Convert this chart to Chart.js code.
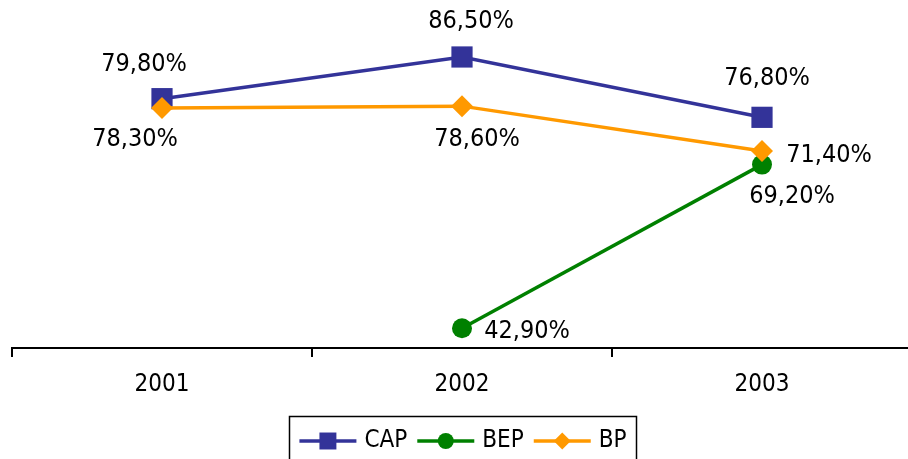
<!DOCTYPE html>
<html>
<head>
<meta charset="utf-8">
<script src="https://cdn.jsdelivr.net/npm/chart.js@4/dist/chart.umd.min.js"></script>
<style>
html,body{margin:0;padding:0;background:#fff;overflow:hidden;}
#wrap{width:908px;height:459px;position:relative;overflow:hidden;}
</style>
</head>
<body>
<div id="wrap"><canvas id="c" width="912" height="459"></canvas></div>
<script>
const categories = ['2001', '2002', '2003'];
const seriesNames = ['CAP', 'BEP', 'BP'];
const capValues = [79.8, 86.5, 76.8];
const bepValues = [null, 42.9, 69.2];
const bpValues = [78.3, 78.6, 71.4];

const colors = ['#333399', '#008000', '#FF9900'];
const styles = ['rect', 'circle', 'rectRot'];
const radii = [15, 10, 11];
const legendRadii = [12, 8, 8.5];
const FONT = "'DejaVu Sans Condensed', 'DejaVu Sans', sans-serif";

// label offsets (dx, dy) relative to each point, per dataset
const labelOffsets = [
  [[-18, -34], [9, -35], [5, -39]],
  [[0, 0], [65, 3], [30, 32]],
  [[-27, 32], [15, 33], [67, 5]]
];

function fmt(v) { return v.toFixed(2).replace('.', ',') + '%'; }

const labelPlugin = {
  id: 'valueLabels',
  afterDatasetsDraw(chart) {
    const ctx = chart.ctx;
    ctx.save();
    ctx.font = '25px ' + FONT;
    ctx.fillStyle = '#000';
    ctx.textAlign = 'center';
    ctx.textBaseline = 'middle';
    chart.data.datasets.forEach((ds, i) => {
      const meta = chart.getDatasetMeta(i);
      meta.data.forEach((pt, j) => {
        const v = ds.data[j];
        if (v === null || v === undefined) return;
        const off = labelOffsets[i][j];
        ctx.fillText(fmt(v), pt.x + off[0], pt.y + off[1]);
      });
    });
    ctx.restore();
  }
};

const legendPlugin = {
  id: 'boxLegend',
  afterDraw(chart) {
    const ctx = chart.ctx;
    ctx.save();
    ctx.font = '24px ' + FONT;
    const lineLen = 57, gapText = 8, gapItem = 10, padX = 10;
    const items = chart.data.datasets.map(ds => ({
      label: ds.label, w: lineLen + gapText + ctx.measureText(ds.label).width
    }));
    const total = items.reduce((s, it) => s + it.w, 0) + gapItem * (items.length - 1);
    const cx = 463;
    let x = cx - total / 2;
    const y = 441;
    ctx.strokeStyle = '#000';
    ctx.lineWidth = 1.5;
    ctx.strokeRect(Math.round(cx - total / 2 - padX) + 0.5, 416.5, Math.round(total + 2 * padX), 60);
    chart.data.datasets.forEach((ds, i) => {
      ctx.strokeStyle = colors[i];
      ctx.lineWidth = 3.5;
      ctx.beginPath();
      ctx.moveTo(x, y);
      ctx.lineTo(x + lineLen, y);
      ctx.stroke();
      ctx.fillStyle = colors[i];
      ctx.beginPath();
      const r = legendRadii[i];
      const mx = x + lineLen / 2;
      if (styles[i] === 'rect') {
        const h = r * Math.SQRT1_2;
        ctx.rect(mx - h, y - h, 2 * h, 2 * h);
      } else if (styles[i] === 'circle') {
        ctx.arc(mx, y, r, 0, Math.PI * 2);
      } else {
        ctx.moveTo(mx, y - r); ctx.lineTo(mx + r, y); ctx.lineTo(mx, y + r); ctx.lineTo(mx - r, y); ctx.closePath();
      }
      ctx.fill();
      ctx.fillStyle = '#000';
      ctx.textAlign = 'left';
      ctx.textBaseline = 'middle';
      ctx.fillText(ds.label, x + lineLen + gapText, y);
      x += items[i].w + gapItem;
    });
    ctx.restore();
  }
};

const seriesValues = [capValues, bepValues, bpValues];
const datasets = seriesNames.map((name, i) => ({
  label: name,
  data: seriesValues[i],
  borderColor: colors[i],
  backgroundColor: colors[i],
  borderWidth: 3.5,
  pointStyle: styles[i],
  pointRadius: radii[i],
  pointHoverRadius: radii[i],
  pointBorderWidth: 0,
  pointBackgroundColor: colors[i],
  tension: 0,
  spanGaps: false,
  order: 3 - i,
  clip: false
}));

new Chart(document.getElementById('c'), {
  type: 'line',
  data: { labels: categories, datasets },
  options: {
    responsive: false,
    animation: false,
    devicePixelRatio: 1,
    layout: { autoPadding: false, padding: { left: 12, right: 0, top: 0, bottom: 0 } },
    plugins: { legend: { display: false }, tooltip: { enabled: false } },
    scales: {
      x: {
        offset: true,
        afterFit(scale) { scale.height = 111; },
        grid: { offset: true, drawOnChartArea: false, drawTicks: true, tickLength: 9, color: '#000', lineWidth: 2 },
        border: { display: true, color: '#000', width: 2 },
        ticks: { color: '#000', font: { family: FONT, size: 24 }, padding: 13, maxRotation: 0 }
      },
      y: {
        display: false,
        min: 39.72,
        max: 95.66
      }
    }
  },
  plugins: [labelPlugin, legendPlugin]
});
</script>
</body>
</html>
